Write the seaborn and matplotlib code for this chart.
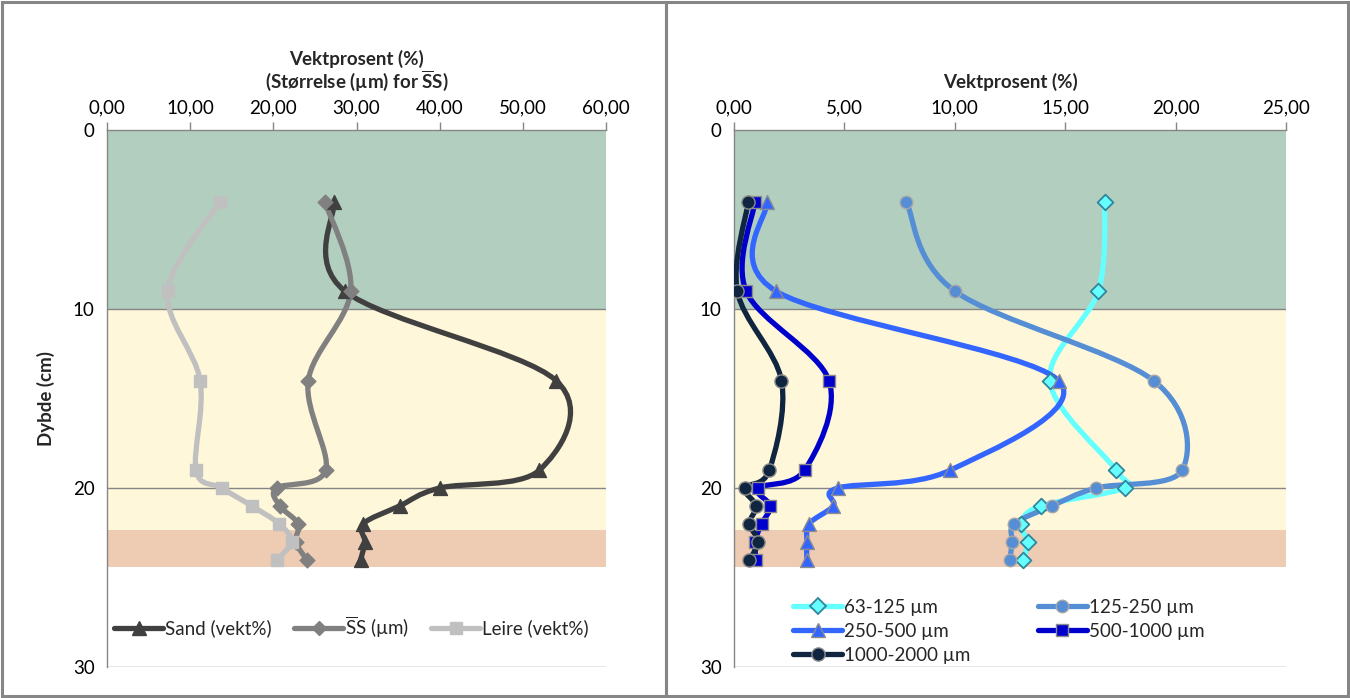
import numpy as np
import pandas as pd
import matplotlib
matplotlib.use("Agg")
import matplotlib.pyplot as plt
import seaborn as sns
from matplotlib.path import Path
from matplotlib.patches import PathPatch, Rectangle
from matplotlib.lines import Line2D
from matplotlib.ticker import FuncFormatter

# depth of each sample (cm)
depth = [4, 9, 14, 19, 20, 21, 22, 23, 24]

# left panel: sand / mean size / clay
sand = [27.3, 28.6, 54.0, 52.0, 40.0, 35.2, 30.8, 31.0, 30.5]
mean_size = [26.2, 29.3, 24.2, 26.3, 20.4, 20.8, 23.0, 22.7, 24.0]
leire = [13.6, 7.3, 11.2, 10.7, 13.8, 17.4, 20.7, 22.2, 20.4]
left_names = ["Sand (vekt%)", r"$\overline{\mathrm{S}}$S (µm)", "Leire (vekt%)"]

# right panel: grain size fractions (vekt%)
f63 = [16.8, 16.5, 14.3, 17.3, 17.7, 13.9, 13.0, 13.3, 13.1]
f125 = [7.8, 10.0, 19.0, 20.3, 16.4, 14.4, 12.7, 12.6, 12.5]
f250 = [1.5, 1.9, 14.7, 9.8, 4.7, 4.5, 3.4, 3.3, 3.3]
f500 = [0.95, 0.55, 4.3, 3.2, 1.1, 1.65, 1.25, 0.95, 1.0]
f1000 = [0.65, 0.15, 2.15, 1.6, 0.5, 1.0, 0.7, 1.1, 0.7]
right_names = ["63-125 µm", "125-250 µm", "250-500 µm",
               "500-1000 µm", "1000-2000 µm"]

# sediment layers (top, bottom in cm)
layer_bounds = [(0, 10), (10, 22.35), (22.35, 24.4)]
layer_colors = ["#b2cebf", "#fff7d9", "#eecbb3"]

sns.set_theme(style="white")
plt.rcParams["font.family"] = ["Lato", "DejaVu Sans"]
plt.rcParams["mathtext.fontset"] = "custom"
plt.rcParams["mathtext.rm"] = "Lato"
plt.rcParams["mathtext.bf"] = "Lato:bold"

GRID = "#868686"


def smooth_path(x, y):
    """Excel-like smoothed line: Catmull-Rom segments as cubic Beziers."""
    pts = np.column_stack([x, y]).astype(float)
    n = len(pts)
    verts = [pts[0]]
    codes = [Path.MOVETO]
    for i in range(n - 1):
        p0 = pts[i - 1] if i > 0 else pts[i]
        p1, p2 = pts[i], pts[i + 1]
        p3 = pts[i + 2] if i + 2 < n else pts[i + 1]
        verts += [p1 + (p2 - p0) / 6, p2 - (p3 - p1) / 6, p2]
        codes += [Path.CURVE4] * 3
    return Path(verts, codes)


def draw_series(ax, xs, color, marker, ms, mfc, mec, lw=3.8, mew=1.0):
    ax.add_patch(PathPatch(smooth_path(xs, depth), fill=False, edgecolor=color,
                           lw=lw, capstyle="round", joinstyle="round", zorder=3))
    df = pd.DataFrame({"x": xs, "depth": depth})
    sns.scatterplot(data=df, x="x", y="depth", ax=ax, marker=marker, s=ms ** 2,
                    color=mfc, edgecolor=mec, linewidth=mew, zorder=4, legend=False)
    return Line2D([], [], color=color, lw=lw, marker=marker, markersize=ms,
                  markerfacecolor=mfc, markeredgecolor=mec, markeredgewidth=mew,
                  solid_capstyle="round")


def setup_axes(ax, xmax, xstep):
    for (top, bottom), c in zip(layer_bounds, layer_colors):
        ax.axhspan(top, bottom, color=c, lw=0, zorder=0)
    for d in [10, 20, 30]:
        ax.axhline(d, color=GRID, lw=1.0, zorder=1)
    ax.set_xlim(0, xmax)
    ax.set_ylim(30, 0)
    ax.set_xticks(np.arange(0, xmax + 0.01, xstep))
    ax.set_yticks([0, 10, 20, 30])
    ax.xaxis.set_major_formatter(FuncFormatter(lambda v, p: f"{v:.2f}".replace(".", ",")))
    ax.xaxis.tick_top()
    ax.xaxis.set_label_position("top")
    ax.tick_params(axis="both", colors=GRID, labelcolor="black", labelsize=13.5,
                   length=6, width=1, direction="out", pad=3)
    ax.tick_params(axis="x", pad=4)
    for s in ["right", "bottom"]:
        ax.spines[s].set_visible(False)
    for s in ["left", "top"]:
        ax.spines[s].set_color(GRID)
        ax.spines[s].set_linewidth(1.0)
    ax.set_facecolor("white")


fig = plt.figure(figsize=(13.5, 6.98), dpi=100)
W, H = 1350, 698
ax1 = fig.add_axes([107 / W, 1 - 667 / H, 499 / W, 537 / H])
ax2 = fig.add_axes([734 / W, 1 - 667 / H, 552 / W, 537 / H])

setup_axes(ax1, 60, 10)
setup_axes(ax2, 25, 5)

h_sand = draw_series(ax1, sand, "#404040", "^", 10, "#404040", "#404040")
h_ss = draw_series(ax1, mean_size, "#808080", "D", 7.5, "#808080", "#808080")
h_leire = draw_series(ax1, leire, "#c0c0c0", "s", 9, "#c0c0c0", "#c0c0c0")

edge = "#8c8c8c"
h63 = draw_series(ax2, f63, "#66ffff", "D", 8, "#66ffff", "#31859c", mew=1.3)
h125 = draw_series(ax2, f125, "#558ed5", "o", 9, "#558ed5", "#a6a6a6")
h250 = draw_series(ax2, f250, "#3366ff", "^", 10, "#3366ff", edge)
h500 = draw_series(ax2, f500, "#0000cc", "s", 9, "#0000cc", edge)
h1000 = draw_series(ax2, f1000, "#10253f", "o", 9.5, "#10253f", edge)

ax1.set_xlabel("Vektprosent (%)\n(Størrelse (µm) for $\\overline{\\mathbf{S}}$S)",
               fontsize=13.5, fontweight="bold", labelpad=8, linespacing=1.0)
ax2.set_xlabel("Vektprosent (%)", fontsize=13.5, fontweight="bold", labelpad=8)
ax1.set_ylabel("Dybde (cm)", fontsize=13.5, fontweight="bold", labelpad=13)
ax2.set_ylabel("")

ax1.legend([h_sand, h_ss, h_leire], left_names, loc="center", ncol=3,
           bbox_to_anchor=(0.49, 0.075), frameon=False, fontsize=13.5,
           handlelength=2.6, handletextpad=0.1, columnspacing=1.2, borderaxespad=0)

order = [0, 2, 4, 1, 3]
hs = [h63, h125, h250, h500, h1000]
ax2.legend([hs[i] for i in order], [right_names[i] for i in order], loc="upper left",
           ncol=2, bbox_to_anchor=(0.094, 0.141), frameon=False, fontsize=13.5,
           handlelength=2.6, handletextpad=0.1, columnspacing=3.6, labelspacing=0.38,
           borderaxespad=0)

# chart frames
for x0, x1 in [(2, 666), (666, 1348)]:
    fig.add_artist(Rectangle((x0 / W, 2 / H), (x1 - x0) / W, (H - 4) / H,
                             transform=fig.transFigure, fill=False,
                             edgecolor=GRID, lw=2.2))

fig.savefig("out.png", dpi=100)
